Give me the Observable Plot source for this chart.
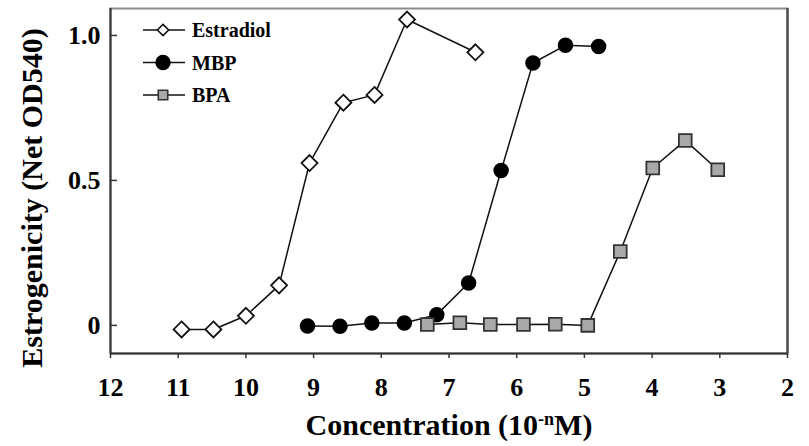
<!DOCTYPE html>
<html>
<head>
<meta charset="utf-8">
<script src="https://cdn.jsdelivr.net/npm/d3@7"></script>
<script src="https://cdn.jsdelivr.net/npm/@observablehq/plot@0.6"></script>
<style>
  html, body { margin: 0; padding: 0; background: #fff; }
  #chart { position: relative; width: 809px; height: 446px; }
</style>
</head>
<body>
<div id="chart"></div>
<script>
// Concentration exponent n (10^-n M) and net OD540 estrogenicity
const estradiolN = [10.95, 10.48, 10.0, 9.51, 9.06, 8.56, 8.10, 7.62, 6.61];
const estradiolY = [-0.014, -0.014, 0.033, 0.138, 0.56, 0.768, 0.795, 1.055, 0.942];

const mbpN = [9.09, 8.61, 8.14, 7.66, 7.18, 6.71, 6.23, 5.76, 5.28, 4.79];
const mbpY = [-0.002, -0.003, 0.008, 0.008, 0.037, 0.146, 0.534, 0.905, 0.966, 0.962];

const bpaN = [7.32, 6.84, 6.39, 5.90, 5.43, 4.95, 4.47, 3.99, 3.51, 3.03];
const bpaY = [0.003, 0.009, 0.003, 0.003, 0.004, 0.0, 0.255, 0.543, 0.638, 0.537];

const xTicks = [12, 11, 10, 9, 8, 7, 6, 5, 4, 3, 2];
const yTicks = [0, 0.5, 1.0];
const yTickLabels = ["0", "0.5", "1.0"];
const seriesNames = ["Estradiol", "MBP", "BPA"];
const xTitle = ["Concentration (10", "-n", "M)"];
const yTitle = "Estrogenicity (Net OD540)";

const xDomain = [12, 2];
const yDomain = [-0.097, 1.093];

const toRows = (ns, ys) => ns.map((n, i) => ({n, v: ys[i]}));
const estradiol = toRows(estradiolN, estradiolY);
const mbp = toRows(mbpN, mbpY);
const bpa = toRows(bpaN, bpaY);

const font = "'Liberation Serif', 'Times New Roman', serif";
const W = 809, H = 446;
const mL = 110, mR = 22, mT = 8, mB = 93;

const plot = Plot.plot({
  width: W,
  height: H,
  marginLeft: mL,
  marginRight: mR,
  marginTop: mT,
  marginBottom: mB,
  style: {fontFamily: font, fontWeight: "bold", background: "#fff", color: "#000"},
  x: {domain: xDomain, range: [mL, W - mR], axis: null},
  y: {domain: yDomain, range: [H - mB, mT], axis: null},
  marks: [
    // frame: top gray, right darker
    Plot.frame({stroke: "#8a8a8a", strokeWidth: 2}),
    Plot.ruleX([xDomain[1]], {stroke: "#555", strokeWidth: 2.5}),
    Plot.ruleX([xDomain[0]], {stroke: "#333", strokeWidth: 2}),
    Plot.ruleY([yDomain[0]], {stroke: "#333", strokeWidth: 2}),
    // x axis ticks and labels
    Plot.axisX({
      ticks: xTicks, tickFormat: d => String(d), tickSize: 5, tickPadding: 19,
      fontSize: 26, fontWeight: "bold", stroke: "#333", strokeWidth: 1.5,
      label: null
    }),
    // y ticks inward
    Plot.tickY(yTicks, {y: d => d, stroke: "#333", strokeWidth: 1.5, insetRight: (W - mL - mR) - 7}),
    Plot.text(yTicks, {
      y: d => d, text: (d, i) => yTickLabels[i], frameAnchor: "left",
      textAnchor: "end", dx: -10, fontSize: 26, fontWeight: "bold"
    }),
    // series lines
    Plot.line(estradiol, {x: "n", y: "v", stroke: "#111", strokeWidth: 1.5}),
    Plot.line(mbp, {x: "n", y: "v", stroke: "#111", strokeWidth: 1.5}),
    Plot.line(bpa, {x: "n", y: "v", stroke: "#111", strokeWidth: 1.5}),
    // markers
    Plot.dot(estradiol, {x: "n", y: "v", symbol: "diamond2", r: 7.2, fill: "#fff", stroke: "#111", strokeWidth: 1.8}),
    Plot.dot(mbp, {x: "n", y: "v", symbol: "circle", r: 7, fill: "#000", stroke: "#000"}),
    Plot.dot(bpa, {x: "n", y: "v", symbol: "square", r: 7.2, fill: "#a9a9a9", stroke: "#333", strokeWidth: 1.8}),
    // axis titles
    Plot.text([xTitle.join("")], {
      frameAnchor: "bottom", textAnchor: "middle", dy: 81, fontSize: 30, fontWeight: "bold", text: d => d
    }),
    Plot.text([yTitle], {
      frameAnchor: "left", textAnchor: "middle", dx: -78, dy: 17, rotate: -90, fontSize: 30, fontWeight: "bold", text: d => d
    })
  ]
});

const svg = d3.select(plot);

// Superscript in the x title
svg.selectAll("text").filter(function() { return this.textContent === xTitle.join(""); })
  .each(function() {
    const t = d3.select(this);
    t.text(null);
    t.append("tspan").text(xTitle[0]);
    t.append("tspan").attr("font-size", 18).attr("dy", "-0.55em").text(xTitle[1]);
    t.append("tspan").attr("dy", "0.33em").text(xTitle[2]);
  });

// Legend drawn into the same SVG
const legend = svg.append("g").attr("font-family", font).attr("font-weight", "bold").attr("text-anchor", "start");
const symbols = [
  {sym: d3.symbolDiamond2, size: 80, fill: "#fff", stroke: "#111"},
  {sym: d3.symbolCircle, size: 150, fill: "#000", stroke: "#000"},
  {sym: d3.symbolSquare, size: 90, fill: "#a9a9a9", stroke: "#333"}
];
seriesNames.forEach((name, i) => {
  const cy = 30 + i * 32.5;
  const g = legend.append("g").attr("transform", `translate(0,${cy})`);
  g.append("line").attr("x1", 143).attr("x2", 185).attr("y1", 0).attr("y2", 0)
    .attr("stroke", "#111").attr("stroke-width", 1.5);
  g.append("path").attr("transform", "translate(163,0)")
    .attr("d", d3.symbol(symbols[i].sym, symbols[i].size)())
    .attr("fill", symbols[i].fill).attr("stroke", symbols[i].stroke).attr("stroke-width", 1.6);
  g.append("text").attr("x", 192).attr("y", 0).attr("dy", "0.35em")
    .attr("font-size", 20).attr("text-anchor", "start").text(name);
});

document.getElementById("chart").appendChild(plot);
</script>
</body>
</html>
